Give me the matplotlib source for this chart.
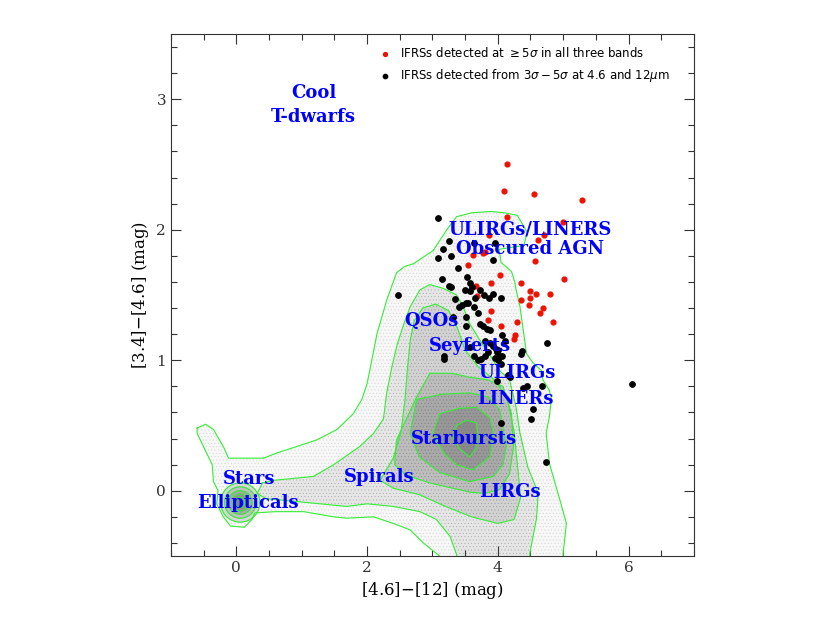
import numpy as np
import matplotlib
matplotlib.use('Agg')
import matplotlib.pyplot as plt
from matplotlib.patches import Polygon

# IFRSs detected at >= 5 sigma in all three bands
red_x = [4.14, 4.10, 4.55, 5.29, 4.14, 5.00, 3.87, 4.71, 4.61, 3.80, 3.78, 3.62,
         4.57, 3.54, 4.04, 5.01, 4.35, 3.66, 3.89, 4.49, 4.58, 3.68, 4.80, 4.36,
         4.50, 4.47, 4.69, 4.64, 3.90, 4.29, 4.84, 3.85, 4.05, 4.27, 4.25]
red_y = [2.50, 2.30, 2.27, 2.23, 2.10, 2.06, 1.96, 1.96, 1.92, 1.83, 1.82, 1.81,
         1.76, 1.73, 1.65, 1.62, 1.59, 1.57, 1.59, 1.53, 1.51, 1.49, 1.51, 1.46,
         1.48, 1.42, 1.40, 1.36, 1.38, 1.29, 1.29, 1.31, 1.26, 1.19, 1.16]

# IFRSs detected from 3 to 5 sigma at 4.6 and 12 um
black_x = [3.08, 3.26, 3.16, 3.28, 3.08, 3.64, 3.96, 3.93, 3.39, 3.53, 3.15, 3.25,
           3.28, 3.58, 3.60, 3.58, 3.50, 3.35, 2.48, 3.73, 3.79, 3.86, 3.93, 4.05,
           3.65, 3.40, 3.46, 3.52, 3.55, 3.51, 3.64, 3.70, 3.73, 3.78, 3.83, 3.52,
           3.32, 3.88, 4.06, 4.11, 3.80, 3.88, 3.93, 3.97, 4.00, 4.75, 3.18, 3.18,
           3.57, 3.63, 3.70, 3.75, 3.81, 3.85, 3.99, 3.95, 4.03, 4.07, 4.01, 4.05,
           4.35, 4.37, 4.16, 4.18, 3.99, 4.45, 4.39, 4.68, 4.54, 4.51, 4.05, 4.74,
           6.06]
black_y = [2.09, 1.91, 1.85, 1.80, 1.78, 1.90, 1.90, 1.77, 1.71, 1.64, 1.62, 1.57,
           1.56, 1.59, 1.56, 1.53, 1.54, 1.47, 1.50, 1.54, 1.50, 1.48, 1.51, 1.48,
           1.48, 1.41, 1.42, 1.44, 1.44, 1.33, 1.41, 1.36, 1.28, 1.26, 1.24, 1.26,
           1.33, 1.23, 1.19, 1.15, 1.15, 1.13, 1.11, 1.09, 1.08, 1.13, 1.03, 1.01,
           1.10, 1.03, 1.00, 1.01, 1.03, 1.06, 1.06, 1.02, 1.03, 1.03, 1.00, 0.97,
           1.05, 1.07, 0.89, 0.87, 0.84, 0.80, 0.79, 0.80, 0.63, 0.55, 0.52, 0.22,
           0.82]

# WISE source density contours (outer to inner)
c1 = [(-0.60, 0.48), (-0.47, 0.51), (-0.35, 0.47), (-0.19, 0.33), (-0.12, 0.25),
      (0.42, 0.25), (0.62, 0.29), (0.87, 0.33), (1.23, 0.39), (1.54, 0.47),
      (1.79, 0.59), (1.92, 0.70), (2.00, 0.82), (2.08, 1.02), (2.15, 1.20),
      (2.30, 1.46), (2.45, 1.67), (2.58, 1.72), (2.71, 1.74), (3.01, 1.84),
      (3.22, 2.00), (3.37, 2.10), (3.60, 2.13), (3.90, 2.14), (4.10, 2.13),
      (4.30, 2.11), (4.45, 1.98), (4.40, 1.88), (4.15, 1.86), (4.02, 1.85),
      (4.05, 1.75), (4.21, 1.68), (4.26, 1.60), (4.28, 1.54), (4.34, 1.41),
      (4.37, 1.30), (4.39, 1.23), (4.44, 1.05), (4.54, 0.98), (4.67, 0.92),
      (4.69, 0.85), (4.79, 0.77), (4.82, 0.70), (4.79, 0.57), (4.74, 0.44),
      (4.79, 0.21), (4.95, -0.07), (5.05, -0.25), (5.00, -0.48), (5.00, -0.70),
      (3.15, -0.70), (3.11, -0.50), (2.86, -0.40), (2.66, -0.30), (2.40, -0.25),
      (2.10, -0.20), (1.69, -0.21), (1.49, -0.20), (1.03, -0.16), (0.60, -0.16),
      (0.28, -0.17), (0.24, -0.22), (0.12, -0.28), (-0.09, -0.27), (-0.20, -0.20),
      (-0.30, -0.10), (-0.28, 0.00), (-0.35, 0.07), (-0.37, 0.20), (-0.60, 0.44)]
c2 = [(0.40, 0.06), (0.57, 0.08), (1.18, 0.11), (1.49, 0.20), (1.89, 0.34),
      (2.10, 0.44), (2.25, 0.55), (2.30, 0.75), (2.38, 0.95), (2.46, 1.12),
      (2.55, 1.26), (2.66, 1.41), (2.81, 1.54), (2.96, 1.58), (3.17, 1.55),
      (3.37, 1.50), (3.47, 1.41), (3.57, 1.28), (3.73, 1.15), (3.93, 1.00),
      (4.03, 0.92), (4.18, 0.85), (4.28, 0.64), (4.34, 0.44), (4.46, 0.18),
      (4.62, -0.02), (4.59, -0.22), (4.49, -0.48), (4.49, -0.70), (3.37, -0.70),
      (3.37, -0.49), (3.27, -0.35), (3.06, -0.22), (2.81, -0.16), (2.40, -0.12),
      (2.00, -0.10), (1.69, -0.12), (0.87, -0.08), (0.45, -0.06), (0.32, -0.02)]
c3 = [(2.20, 0.08), (2.40, 0.25), (2.52, 0.45), (2.58, 0.70), (2.62, 0.95),
      (2.66, 1.15), (2.72, 1.30), (2.85, 1.40), (3.05, 1.43), (3.25, 1.38),
      (3.38, 1.25), (3.50, 1.08), (3.70, 0.95), (3.95, 0.85), (4.15, 0.70),
      (4.25, 0.45), (4.30, 0.20), (4.35, -0.05), (4.25, -0.22), (4.00, -0.25),
      (3.60, -0.20), (3.20, -0.12), (2.80, -0.03), (2.40, 0.02)]
c4 = [(2.96, 0.90), (3.30, 0.90), (3.57, 0.87), (3.85, 0.85), (4.08, 0.80),
      (4.21, 0.59), (4.24, 0.34), (4.18, 0.13), (4.03, 0.01), (3.80, -0.02),
      (3.57, -0.01), (2.96, 0.06), (2.60, 0.12), (2.42, 0.20), (2.45, 0.39),
      (2.60, 0.55), (2.76, 0.72)]
c5 = [(2.76, 0.70), (3.15, 0.74), (3.57, 0.75), (3.85, 0.72), (4.03, 0.62),
      (4.13, 0.34), (4.08, 0.20), (3.93, 0.11), (3.57, 0.07), (3.11, 0.14),
      (2.80, 0.26), (2.66, 0.44)]
c6 = [(3.11, 0.59), (3.40, 0.63), (3.67, 0.64), (3.88, 0.56), (3.93, 0.45),
      (3.88, 0.26), (3.62, 0.16), (3.37, 0.20), (3.17, 0.29), (3.01, 0.44)]
c7 = [(3.37, 0.50), (3.52, 0.54), (3.67, 0.52), (3.70, 0.42), (3.66, 0.32),
      (3.57, 0.26), (3.42, 0.32), (3.32, 0.40)]

# stellar lobe rings: centre and half widths
lobe_x, lobe_y = 0.06, -0.09
lobe_rx = [0.30, 0.24, 0.18, 0.12, 0.07]
lobe_ry = [0.15, 0.12, 0.09, 0.065, 0.04]

main_levels = [c1, c2, c3, c4, c5, c6, c7]
face = ['#f7f7f7', '#e6e6e6', '#d2d2d2', '#bdbdbd', '#a9a9a9', '#979797', '#8a8a8a']
speck = ['#d4d4d4', '#a8a8a8', '#999999', '#8a8a8a', '#7e7e7e', '#777777', '#777777']
lobe_face = ['#d8d8d8', '#c0c0c0', '#a8a8a8', '#939393', '#858585']

labels = [('Cool', 1.18, 3.05), ('T-dwarfs', 1.18, 2.86),
          ('ULIRGs/LINERS', 4.49, 2.00), ('Obscured AGN', 4.49, 1.855),
          ('QSOs', 2.99, 1.30), ('Seyferts', 3.57, 1.107),
          ('ULIRGs', 4.29, 0.90), ('LINERs', 4.27, 0.70),
          ('Starbursts', 3.48, 0.40), ('Spirals', 2.18, 0.105),
          ('LIRGs', 4.18, -0.01), ('Stars', 0.20, 0.09),
          ('Ellipticals', 0.18, -0.09)]

green = '#33ee33'
plt.rcParams['hatch.linewidth'] = 0.3

fig = plt.figure(figsize=(8.30, 6.23), dpi=100)
ax = fig.add_axes([0.206, 0.1075, 0.630, 0.838])

for lev, fc, sc in zip(main_levels, face, speck):
    ax.add_patch(Polygon(lev, closed=True, facecolor=fc, edgecolor=sc,
                         linewidth=0, hatch='.....', zorder=1))
    xs = [p[0] for p in lev] + [lev[0][0]]
    ys = [p[1] for p in lev] + [lev[0][1]]
    ax.plot(xs, ys, color=green, lw=0.8, zorder=2)

t = np.linspace(0, 2 * np.pi, 60)
for rx, ry, fc in zip(lobe_rx, lobe_ry, lobe_face):
    ex = lobe_x + rx * np.cos(t)
    ey = lobe_y + ry * np.sin(t)
    ax.fill(ex, ey, color=fc, zorder=1.5)
    ax.plot(ex, ey, color=green, lw=0.8, zorder=2)

ax.scatter(red_x, red_y, s=12, color='#ee1100', zorder=3,
           label=r'IFRSs detected at $\geq 5\sigma$ in all three bands')
ax.scatter(black_x, black_y, s=15, color='black', zorder=3,
           label=r'IFRSs detected from $3\sigma - 5\sigma$ at 4.6 and 12$\mu$m')

for txt, x, y in labels:
    ax.text(x, y, txt, color='#0000ff', fontsize=13, fontweight='bold',
            family='DejaVu Serif', ha='center', va='center', zorder=4)

leg = ax.legend(loc='upper right', bbox_to_anchor=(0.975, 0.997), frameon=False,
                handletextpad=0.3, markerscale=0.8, borderaxespad=0.5,
                labelspacing=0.55, prop={'family': 'DejaVu Sans', 'size': 8.5})

ax.set_xlim(-1, 7)
ax.set_ylim(-0.5, 3.5)
ax.set_xticks([0, 2, 4, 6])
ax.set_yticks([0, 1, 2, 3])
ax.set_xticks(np.arange(-1, 7.01, 0.5), minor=True)
ax.set_yticks(np.arange(-0.4, 3.5, 0.2), minor=True)
ax.tick_params(which='both', direction='in', top=True, right=True,
               labelsize=11, colors='#333333')
ax.tick_params(which='major', length=7, width=0.8)
ax.tick_params(which='minor', length=4, width=0.8)
for lab in ax.get_xticklabels() + ax.get_yticklabels():
    lab.set_family('DejaVu Serif')
for sp in ax.spines.values():
    sp.set_linewidth(0.8)
    sp.set_color('#333333')

ax.set_xlabel('[4.6]$-$[12] (mag)', family='DejaVu Serif', fontsize=12)
ax.set_ylabel('[3.4]$-$[4.6] (mag)', family='DejaVu Serif', fontsize=12)

fig.savefig('out.png', dpi=100)
